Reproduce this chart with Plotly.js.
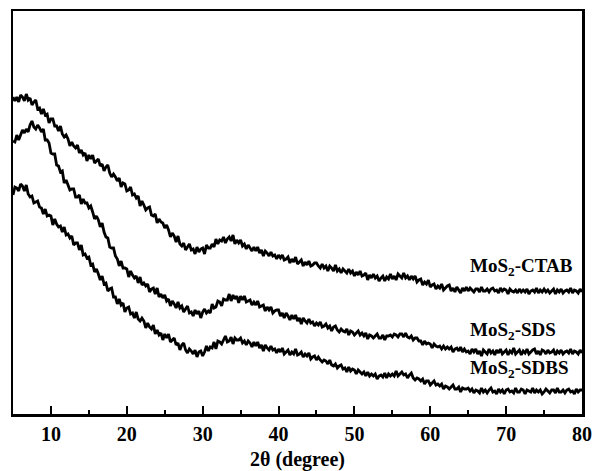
<!DOCTYPE html>
<html>
<head>
<meta charset="utf-8">
<script src="https://cdn.plot.ly/plotly-3.0.1.min.js"></script>
<style>
html,body{margin:0;padding:0;background:#fff;}
#chart{width:596px;height:471px;}
</style>
</head>
<body>
<div id="chart"></div>
<script>
// 2-theta sampling of the patterns (degrees)
const angleStart = 5;
const angleStep = 0.25;

// Intensities (arbitrary units), one value per 0.25 degree from 5 to 80
const ctab = [
317,313,317,312,319,317,313,320,314,316,309,312,314,305,306,300,305,299,300,291,295,295,288,288,283,288,280,277,279,275,268,272,268,266,269,261,264,259,261,253,
259,255,259,251,253,255,248,250,243,247,249,241,237,240,237,233,236,227,231,230,223,224,227,219,220,216,218,208,213,209,204,206,207,199,198,200,191,195,192,191,
186,189,184,177,181,178,172,178,170,168,171,164,167,170,164,165,160,167,162,165,166,160,169,166,166,170,167,175,170,174,173,177,171,175,177,173,179,170,174,171,
174,168,170,165,169,166,163,167,163,167,161,164,158,163,161,158,162,158,159,155,159,156,159,154,155,157,151,155,152,157,150,152,154,148,152,149,153,148,149,151,
151,148,146,150,146,148,143,148,146,143,149,143,145,141,145,143,141,145,141,143,138,142,139,143,138,139,141,134,139,136,140,136,138,133,136,138,133,137,135,140,
135,138,134,140,138,136,141,136,138,134,138,135,138,132,134,135,129,132,130,134,127,129,130,125,128,126,130,124,126,128,129,123,126,122,127,124,121,126,123,127,
123,126,124,122,125,125,122,127,123,123,125,122,125,126,123,124,121,126,123,125,124,120,125,123,122,124,121,125,122,124,122,125,120,123,124,122,126,121,124,122,
125,122,124,121,123,125,120,124,122,125,121,123,124,122,126,121,124,123,121,125,122
];

const sds = [
273,272,279,274,279,284,281,285,282,289,293,287,285,289,286,282,285,274,274,271,261,260,260,249,248,242,243,231,234,229,224,225,225,217,217,219,210,215,211,211,
206,208,202,195,198,194,187,191,182,177,176,167,166,166,158,155,148,153,146,146,145,137,143,139,136,138,131,137,129,131,128,130,122,125,126,120,126,117,120,116,
119,113,115,108,113,110,106,112,106,108,102,105,108,101,102,98,104,100,103,96,102,105,101,103,101,110,106,107,113,112,108,115,114,114,120,113,119,115,118,111,
118,114,118,112,113,114,109,112,109,113,107,108,109,103,107,104,107,101,103,104,104,98,101,96,101,98,94,99,95,99,93,96,90,96,93,91,95,91,92,88,
91,89,92,87,88,90,86,88,83,87,88,84,82,85,83,82,85,79,83,82,79,81,83,79,81,78,81,75,79,78,76,78,80,76,76,79,74,78,78,79,
77,80,79,77,80,80,77,81,77,76,78,74,76,76,73,73,69,73,70,71,70,66,70,68,67,68,65,68,65,67,65,67,62,65,66,63,67,62,65,62,
63,60,65,62,65,60,63,58,64,62,60,65,61,63,59,64,61,65,60,62,64,59,63,61,66,60,62,64,59,63,61,65,60,62,64,65,60,63,59,64,
63,60,64,61,62,64,59,63,61,64,60,62,63,61,65,60,63,62,60,64,61
];

const sdbs = [
219,227,226,223,230,228,223,229,220,217,218,211,212,213,207,206,200,205,198,199,198,189,195,190,187,188,182,187,179,180,176,178,169,171,171,164,169,159,160,156,
157,149,150,142,145,140,134,138,130,131,123,125,126,117,117,110,115,109,111,102,106,107,100,101,96,102,95,93,96,93,86,91,87,85,89,80,84,79,81,74,
80,76,80,72,74,76,69,71,64,69,71,64,61,65,63,60,64,57,62,63,58,62,68,63,67,66,72,65,73,72,70,74,78,72,73,77,70,76,74,74,
76,71,73,69,73,71,67,72,68,72,66,69,63,69,66,64,68,64,65,61,65,62,66,60,62,64,59,62,60,65,59,60,62,57,60,58,61,55,57,58,
54,57,54,52,54,53,50,54,49,48,50,46,48,49,45,46,42,47,43,45,44,40,44,42,40,42,38,42,38,40,38,40,35,38,39,37,41,36,40,38,
40,38,43,38,40,42,39,40,36,39,41,36,34,36,35,33,35,30,33,33,29,31,33,29,30,28,30,25,28,27,25,27,29,25,25,27,22,26,25,25,
26,23,25,21,24,23,21,26,22,24,21,24,26,22,23,20,25,22,24,20,24,25,22,23,21,26,22,22,25,24,20,24,23,22,26,21,24,22,24,20,
22,25,23,21,24,24,21,26,22,22,24,21,24,25,22,23,20,25,22,24,24
];

const seriesNames = ['MoS<sub>2</sub>-CTAB', 'MoS<sub>2</sub>-SDS', 'MoS<sub>2</sub>-SDBS'];
const labelLevels = [147, 83, 45];
const xTickVals = [10, 20, 30, 40, 50, 60, 70, 80];

const serif = 'Liberation Serif, Times New Roman, serif';
const allSeries = [ctab, sds, sdbs];

const traces = allSeries.map((vals, k) => ({
  type: 'scatter',
  mode: 'lines',
  x0: angleStart,
  dx: angleStep,
  y: vals,
  name: seriesNames[k],
  line: {color: '#000', width: 2.8, simplify: false},
  hoverinfo: 'skip'
}));

const annotations = seriesNames.map((t, k) => ({
  text: '<b>' + t + '</b>',
  xref: 'paper', yref: 'y',
  x: 0.80, y: labelLevels[k],
  xanchor: 'left', yanchor: 'middle',
  showarrow: false,
  font: {family: serif, size: 19, color: '#000'}
}));

const layout = {
  width: 596, height: 471,
  margin: {l: 13, r: 14, t: 11, b: 57},
  paper_bgcolor: '#fff', plot_bgcolor: '#fff',
  showlegend: false,
  xaxis: {
    range: [5, 80],
    tickmode: 'array', tickvals: xTickVals, ticktext: xTickVals.map(v => '<b>' + v + '</b>'),
    ticks: 'inside', ticklen: 8, tickwidth: 2, tickcolor: '#000',
    minor: {ticks: 'inside', dtick: 5, ticklen: 4, tickwidth: 2, tickcolor: '#000', showgrid: false},
    showline: true, linewidth: 2.5, linecolor: '#000', mirror: true,
    showgrid: false, zeroline: false,
    tickfont: {family: serif, size: 20, color: '#000'},
    title: {text: '<b>2θ (degree)</b>', font: {family: serif, size: 20, color: '#000'}, standoff: 14}
  },
  yaxis: {
    range: [0, 403],
    showticklabels: false, ticks: '',
    showline: true, linewidth: 2.5, linecolor: '#000', mirror: true,
    showgrid: false, zeroline: false
  },
  annotations: annotations
};

Plotly.newPlot('chart', traces, layout, {displayModeBar: false, staticPlot: true});
</script>
</body>
</html>
